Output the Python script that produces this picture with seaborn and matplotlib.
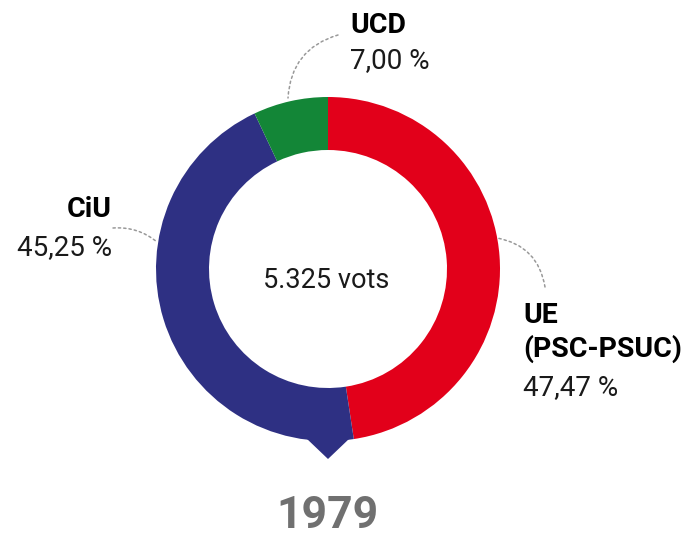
import matplotlib
matplotlib.use("Agg")
import matplotlib.pyplot as plt
import seaborn as sns
from matplotlib.patches import Polygon

# data
parties = ["UE\n(PSC-PSUC)", "CiU", "UCD"]
shares = [47.47, 45.25, 7.00]
share_labels = ["47,47 %", "45,25 %", "7,00 %"]
colors = ["#E2001A", "#2E3083", "#138637"]
total_votes = "5.325 vots"
year = "1979"

sns.set_theme(style="white")
plt.rcParams['font.family'] = ['Roboto', 'DejaVu Sans']

W, H = 687, 538
fig = plt.figure(figsize=(W / 100, H / 100), dpi=100)
ax = fig.add_axes([0, 0, 1, 1])

cx, cy, r = 328, H - 269, 172
ax.pie(shares, colors=colors, startangle=90, counterclock=False,
       center=(cx, cy), radius=r, frame=True,
       wedgeprops=dict(width=53, linewidth=0))
ax.set_xlim(0, W)
ax.set_ylim(0, H)
ax.set_aspect('equal')
ax.axis('off')

# little pointer under the ring
ax.add_patch(Polygon([(cx - 22, cy - r + 3), (cx + 22, cy - r + 3), (cx, cy - r - 18)],
                     closed=True, color=colors[1], lw=0))

ax.text(cx - 2, H - 288, total_votes, ha='center', va='baseline', fontsize=19.5,
        color='#1a1a1a', fontweight='normal')
ax.text(cx - 1, H - 528, year, ha='center', va='baseline', fontsize=32,
        color='#707070', fontweight='bold')

# labels
FS = 20.5


def label(x, ys, name, pct, ha):
    lines = name.split("\n")
    for ln, y in zip(lines, ys):
        ax.text(x, H - y, ln, ha=ha, va='baseline', fontsize=FS,
                fontweight='bold', color='black')
    ax.text(x, H - ys[-1], pct, ha=ha, va='baseline', fontsize=FS - 0.5,
            fontweight='normal', color='#1a1a1a')


label(350, [33, 68], parties[2], share_labels[2], 'left')
label(112, [217, 255], parties[1], share_labels[1], 'right')
label(523, [323, 357, 395], parties[0], share_labels[0], 'left')

# dotted leader lines
lead = dict(arrowstyle='-', color='#999999', lw=1.1, linestyle=(0, (1.5, 2)),
            shrinkA=0, shrinkB=0)
ax.annotate('', xy=(288, H - 98), xytext=(338, H - 35),
            arrowprops=dict(connectionstyle="arc3,rad=0.35", **lead))
ax.annotate('', xy=(157, H - 242), xytext=(113, H - 228),
            arrowprops=dict(connectionstyle="arc3,rad=-0.2", **lead))
ax.annotate('', xy=(497, H - 238), xytext=(545, H - 287),
            arrowprops=dict(connectionstyle="arc3,rad=0.35", **lead))

fig.savefig("out.png", dpi=100, facecolor='white')
